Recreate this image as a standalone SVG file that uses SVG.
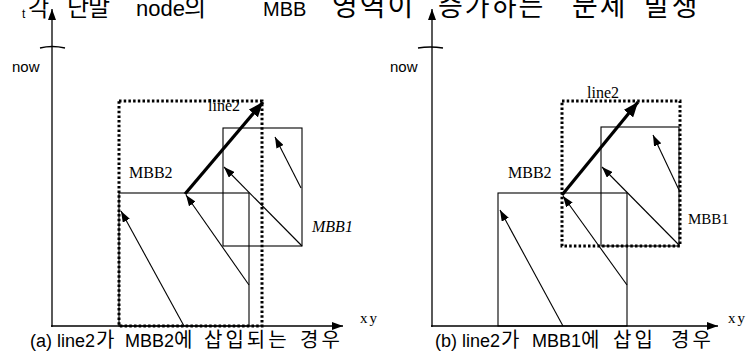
<svg xmlns="http://www.w3.org/2000/svg" width="750" height="360" viewBox="0 0 750 360">
<style>
.ax{stroke:#000;stroke-width:1.3;fill:none}
.box{stroke:#000;stroke-width:1.1;fill:none}
.dot{stroke:#000;stroke-width:3;fill:none;stroke-dasharray:2.5 2.2}
.thin{stroke:#000;stroke-width:1.1;fill:none;marker-end:url(#ah)}
.thick{stroke:#000;stroke-width:3.2;fill:none;marker-end:url(#ahb)}
.axarr{marker-end:url(#ah)}
.sans{font-family:"Liberation Sans","Noto Sans CJK KR",sans-serif;fill:#000}
.kr{font-family:"Noto Sans CJK KR","Liberation Sans",sans-serif}
.serif{font-family:"Liberation Serif","Noto Serif CJK KR",serif;fill:#000}
.cap{font-size:18px}
.cap .kr{font-size:20px;letter-spacing:3px}
</style>
<defs>
<marker id="ah" markerUnits="userSpaceOnUse" markerWidth="12" markerHeight="8" refX="11" refY="4" orient="auto">
<path d="M0,0 L11,4 L0,8 z" fill="#000"/>
</marker>
<marker id="ahb" markerUnits="userSpaceOnUse" markerWidth="16" markerHeight="12" refX="15" refY="6" orient="auto">
<path d="M0,0 L15,6 L0,12 z" fill="#000"/>
</marker>
</defs>
<rect width="750" height="360" fill="#fff"/>

<g id="title">
<text class="sans" y="16" font-size="27"><tspan class="kr" x="28" font-size="23">각</tspan><tspan class="kr" x="67" font-size="24" letter-spacing="-1">단말</tspan><tspan x="136" font-size="22">node</tspan><tspan class="kr" x="184" font-size="24">의</tspan><tspan x="263" font-size="20">MBB</tspan><tspan class="kr" x="332" font-size="28" letter-spacing="2">영역이</tspan><tspan class="kr" x="438" letter-spacing="2">증가하는</tspan><tspan class="kr" x="572" font-size="28" letter-spacing="2">문제</tspan><tspan class="kr" x="644" font-size="28" letter-spacing="2">발생</tspan></text>
</g>

<g id="axes-a">
<line class="ax axarr" x1="52" y1="327" x2="52" y2="9"/>
<line class="ax axarr" x1="51" y1="326" x2="343" y2="326"/>
<path class="ax" d="M40,48 Q52,45 65,48"/>
<text class="sans" x="22" y="18" font-size="12">t</text>
<text class="sans" x="12" y="72" font-size="15">now</text>
<text class="serif" x="360" y="323" font-size="15" letter-spacing="2">xy</text>
</g>

<g id="mbb1-a">
<rect class="box" x="223" y="128" width="79" height="118"/>
<text class="serif" x="312" y="232" font-size="16" font-style="italic">MBB1</text>
</g>
<g id="mbb2-a">
<rect class="box" x="119" y="193" width="130" height="133"/>
<rect class="dot" x="119" y="101" width="143" height="225"/>
<text class="serif" x="129" y="178" font-size="16">MBB2</text>
</g>
<g id="line2-a">
<text class="serif" x="208" y="111" font-size="16">line2</text>
</g>

<g id="axes-b">
<line class="ax axarr" x1="432" y1="327" x2="432" y2="9"/>
<line class="ax axarr" x1="431" y1="326" x2="718" y2="326"/>
<path class="ax" d="M418,48 Q430,46 443,48"/>
<text class="sans" x="390" y="72" font-size="15">now</text>
<text class="serif" x="728" y="323" font-size="15" letter-spacing="2">xy</text>
</g>

<g id="mbb1-b">
<rect class="box" x="601" y="127" width="78" height="119"/>
<text class="serif" x="688" y="224" font-size="15">MBB1</text>
</g>
<g id="mbb2-b">
<rect class="box" x="498" y="193" width="129" height="133"/>
<rect class="dot" x="562" y="101" width="118" height="145"/>
<text class="serif" x="508" y="178" font-size="16">MBB2</text>
</g>
<g id="line2-b">
<text class="serif" x="587" y="98" font-size="16">line2</text>
</g>

<g id="connectors">
<line class="thin" x1="184" y1="326" x2="121" y2="211"/>
<line class="thin" x1="249" y1="285" x2="186" y2="195"/>
<line class="thin" x1="302" y1="246" x2="224" y2="167"/>
<line class="thin" x1="301" y1="188" x2="275" y2="137"/>
<line class="thick" x1="185" y1="194" x2="263" y2="102"/>

<line class="thin" x1="563" y1="326" x2="500" y2="210"/>
<line class="thin" x1="627" y1="285" x2="563" y2="196"/>
<line class="thin" x1="679" y1="245" x2="602" y2="167"/>
<line class="thin" x1="679" y1="190" x2="653" y2="135"/>
<line class="thick" x1="562" y1="195" x2="638" y2="102"/>
</g>

<g id="captions">
<text class="sans cap" y="347"><tspan x="30">(a) line2</tspan><tspan class="kr" x="96">가</tspan><tspan x="125">MBB2</tspan><tspan class="kr" x="174">에</tspan><tspan class="kr" x="204">삽입되는</tspan><tspan class="kr" x="300">경우</tspan></text>
<text class="sans cap" y="347"><tspan x="435">(b) line2</tspan><tspan class="kr" x="501">가</tspan><tspan x="532">MBB1</tspan><tspan class="kr" x="581">에</tspan><tspan class="kr" x="613">삽입</tspan><tspan class="kr" x="671">경우</tspan></text>
</g>
</svg>
